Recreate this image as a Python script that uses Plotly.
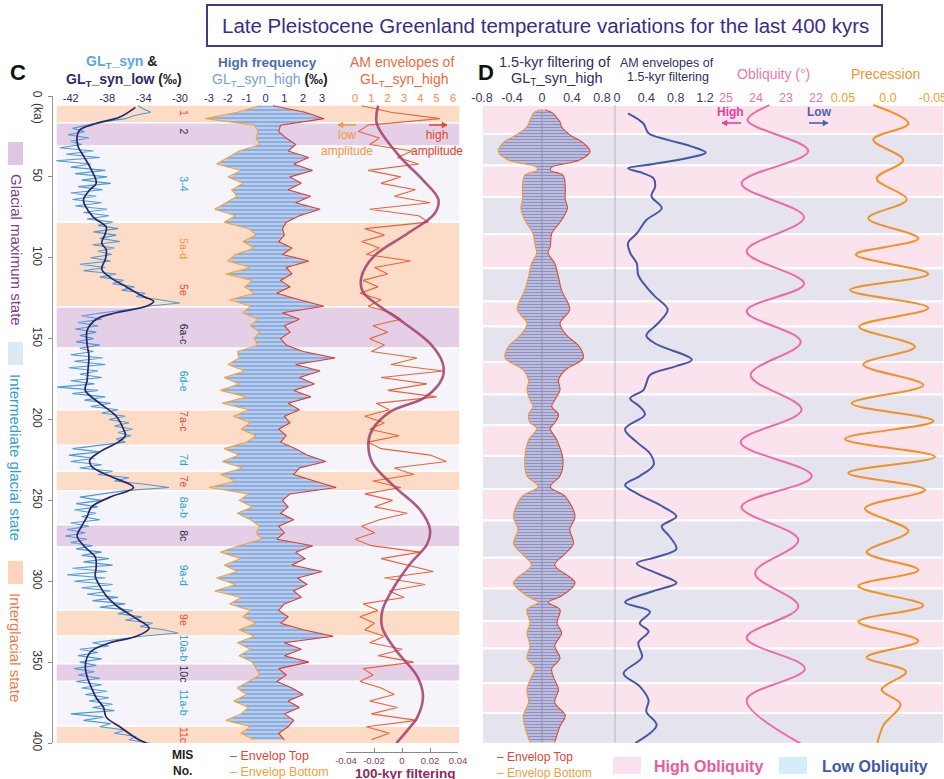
import plotly.graph_objects as go

W, H = 944, 779
FONT = "Liberation Sans, Arial, sans-serif"


def fx(p):
    return p / W


def fy(p):
    return 1 - p / H


# ---------------- DATA ----------------
# Panel C, track 1: GL_T_syn (light blue) every 2 kyr
ages_syn = list(range(6, 401, 2))
gl_syn = [
    -34.6, -34.0, -33.2, -35.0, -36.0, -38.5, -40.2, -41.8, -40.5, -42.3,
    -40.0, -42.0, -40.8, -43.2, -39.5, -42.5, -38.8, -43.6, -39.8, -42.0,
    -38.2, -41.5, -38.0, -40.8, -37.6, -41.2, -38.5, -42.0, -39.2, -41.8,
    -38.6, -41.5, -38.0, -40.6, -37.8, -40.2, -37.4, -39.0, -36.8, -39.5,
    -37.0, -38.8, -36.6, -39.6, -37.2, -39.0, -37.5, -39.8, -37.6, -41.0,
    -38.2, -40.6, -37.0, -38.8, -36.2, -37.4, -35.0, -36.4, -33.8, -34.8,
    -32.2, -30.0, -33.6, -35.6, -38.5, -40.8, -38.6, -41.2, -39.0, -41.5,
    -39.2, -41.0, -39.5, -41.4, -38.8, -41.0, -39.5, -42.0, -38.5, -41.6,
    -38.2, -42.2, -39.0, -41.0, -38.6, -42.0, -39.4, -43.5, -39.0, -41.8,
    -38.2, -40.5, -37.6, -39.8, -36.8, -38.6, -36.0, -37.8, -35.6, -37.2,
    -35.2, -36.8, -35.4, -37.0, -36.0, -38.6, -41.8, -38.8, -42.2, -39.4,
    -42.0, -38.6, -41.0, -37.4, -39.0, -35.6, -37.2, -33.8, -31.2, -36.0,
    -38.4, -41.0, -38.6, -41.4, -39.0, -41.6, -39.2, -40.8, -38.8, -42.0,
    -40.0, -42.4, -40.4, -42.6, -40.2, -42.0, -39.6, -41.4, -38.6, -40.8,
    -37.8, -40.6, -37.4, -41.8, -38.0, -42.4, -38.2, -41.6, -37.4, -40.8,
    -37.6, -40.2, -36.8, -39.6, -36.0, -38.8, -35.2, -36.8, -34.2, -36.0,
    -33.0, -34.4, -31.8, -30.2, -34.2, -37.2, -39.6, -37.8, -41.0, -39.0,
    -41.2, -38.6, -41.0, -39.2, -41.6, -39.4, -41.2, -38.8, -41.4, -38.6,
    -40.8, -38.0, -40.4, -37.8, -40.0, -37.4, -39.6, -37.2, -42.0, -38.4,
    -40.6, -37.6, -38.8, -36.0, -37.2, -34.8, -35.6, -33.4]

# GL_T_syn_low (dark smooth curve)
ages_low = [7, 13, 17, 21, 25, 31, 37, 46, 54, 58, 64, 68, 75, 81, 85, 91, 95,
            101, 107, 112, 118, 124, 127, 130, 134, 138, 145, 153, 161, 169,
            176, 182, 190, 198, 206, 210, 214, 220, 225, 229, 235, 242, 248,
            254, 260, 266, 272, 279, 285, 291, 297, 303, 309, 315, 322, 329,
            334, 338, 343, 347, 353, 359, 366, 372, 378, 384, 390, 397, 400]
gl_low = [-34.9, -36.6, -39.2, -41.0, -41.3, -41.2, -40.6, -39.7, -39.2, -39.9,
          -40.6, -40.4, -39.5, -38.1, -38.2, -38.6, -38.1, -38.2, -38.6, -37.7,
          -35.9, -34.0, -32.9, -33.7, -37.0, -39.2, -40.2, -40.2, -40.0, -40.1,
          -40.2, -40.4, -38.8, -37.0, -36.2, -36.0, -36.8, -38.8, -39.9, -39.7,
          -37.7, -35.1, -37.7, -39.7, -40.2, -40.8, -41.3, -40.4, -39.3, -39.2,
          -39.3, -38.8, -38.1, -37.0, -35.1, -33.4, -34.8, -37.7, -39.7, -40.2,
          -40.4, -40.2, -39.7, -39.2, -38.4, -38.1, -36.6, -34.8, -33.7]

# Panel C, track 2: envelopes of GL_T_syn_high, every 4 kyr
ages_env = list(range(6, 399, 4))
env_top = [
    0.4, 2.1, 3.1, 0.8, 0.7, 1.1, 1.6, 1.2, 2.3, 1.5,
    2.5, 1.3, 1.9, 1.2, 2.4, 1.6, 2.9, 1.8, 1.1, 0.9,
    1.0, 0.7, 1.4, 0.9, 2.3, 1.1, 1.4, 0.8, 1.3, 0.6,
    1.8, 3.1, 0.9, 1.8, 1.0, 1.3, 0.8, 1.1, 2.0, 3.7,
    1.6, 2.9, 1.8, 2.6, 1.5, 2.4, 1.2, 1.8, 1.0, 1.3,
    0.7, 1.1, 0.8, 1.6, 2.2, 3.2, 1.8, 1.5, 2.6, 3.75,
    1.3, 0.9, 1.2, 0.8, 1.5, 0.7, 1.0, 0.6, 2.5, 1.6,
    2.1, 1.4, 3.0, 1.7, 2.2, 1.5, 1.9, 1.0, 0.7, 1.2,
    0.8, 2.0, 3.6, 1.0, 1.9, 1.0, 2.3, 0.7, 1.1, 0.6,
    1.4, 2.0, 1.2, 1.8, 1.0, 1.5, 1.2, 0.7, 1.0]
env_bot = [
    -0.3, -1.5, -3.2, -0.6, -0.4, -0.5, -0.3, -1.4, -2.0, -2.6,
    -1.3, -2.0, -1.2, -1.8, -1.5, -2.1, -2.7, -1.6, -2.2, -0.9,
    -0.5, -1.2, -0.6, -1.6, -2.0, -0.8, -2.1, -0.7, -1.1, -0.6,
    -1.9, -0.8, -1.2, -0.4, -0.8, -0.3, -0.6, -0.4, -1.5, -1.4,
    -2.0, -1.1, -2.2, -1.4, -2.4, -1.0, -2.3, -0.9, -1.7, -0.8,
    -1.3, -0.5, -1.0, -2.2, -1.4, -2.3, -1.2, -2.4, -1.6, -3.0,
    -0.9, -1.4, -0.7, -1.5, -0.8, -0.3, -0.5, -0.2, -1.4, -2.4,
    -1.3, -2.2, -1.5, -2.6, -1.6, -2.7, -1.3, -1.9, -0.8, -1.2,
    -0.5, -1.4, -0.6, -1.5, -0.8, -1.4, -0.7, -0.5, -0.3, -0.9,
    -1.5, -1.0, -1.7, -0.9, -1.3, -2.1, -0.8, -1.3, -0.6]

# Panel C, track 3: AM envelopes of GL_T_syn_high
am_env = [
    0.4, 2.2, 5.2, 0.8, 0.2, 1.5, 0.9, 3.5, 2.6, 3.9,
    0.8, 2.8, 1.6, 3.7, 2.4, 4.6, 0.9, 3.9, 4.5, 0.6,
    1.8, 0.4, 1.5, 0.7, 3.4, 1.2, 2.0, 0.5, 1.4, 0.3,
    1.6, 0.8, 2.2, 2.8, 1.1, 2.0, 0.9, 1.8, 1.0, 3.8,
    2.2, 5.4, 1.6, 4.4, 2.0, 5.0, 1.3, 2.1, 0.6, 1.8,
    0.9, 2.7, 0.8, 1.6, 4.6, 5.6, 2.4, 3.6, 1.1, 2.8,
    0.6, 2.3, 1.2, 3.2, 1.5, 0.4, 1.2, 0.0, 1.0, 4.0,
    1.6, 3.3, 4.8, 1.8, 4.3, 2.1, 3.0, 0.5, 1.4, 0.3,
    1.2, 0.6, 1.8, 0.9, 2.9, 1.4, 3.6, 0.5, 1.1, 0.3,
    1.6, 2.4, 0.9, 2.6, 1.0, 3.8, 0.7, 2.1, 1.0]

# 100-kyr filtering
ages_100 = [6, 17, 37, 52, 64, 73, 85, 99, 112, 121, 130, 140, 153, 165, 174,
            186, 195, 206, 214, 227, 241, 256, 268, 277, 289, 304, 318, 329,
            343, 359, 371, 384, 392, 400]
filt_100 = [-0.017, -0.018, -0.002, 0.015, 0.026, 0.023, 0.004, -0.020, -0.029,
            -0.028, -0.016, 0.001, 0.020, 0.029, 0.029, 0.017, -0.008, -0.021,
            -0.024, -0.021, -0.006, 0.013, 0.020, 0.018, 0.006, -0.006, -0.014,
            -0.014, -0.004, 0.011, 0.015, 0.011, 0.004, -0.004]

# Panel D, track 1: 1.5-kyr filtering envelopes
ages_f15 = [8.5, 10.5, 13, 16, 19, 24, 29, 34.4, 39.6, 44,
            46, 49, 56, 64, 69.4, 76.7, 85, 93, 97, 103.5,
            112, 120, 132, 140.5, 148, 155, 162, 169.4, 175.6, 181.8,
            188, 192, 197, 202, 205.5, 212.8, 225, 235, 241.5, 247.7,
            260, 268, 276.6, 283, 290, 301, 309.6, 313, 317.6, 325.8,
            332, 340, 347.6, 354, 359, 367, 375, 383, 389.6, 399.5]
f15_top = [0.04, 0.14, 0.19, 0.24, 0.26, 0.37, 0.55, 0.64, 0.50, 0.13,
           0.11, 0.28, 0.31, 0.31, 0.34, 0.26, 0.13, 0.11, 0.08, 0.17,
           0.22, 0.26, 0.37, 0.24, 0.33, 0.50, 0.55, 0.31, 0.22, 0.24,
           0.17, 0.13, 0.22, 0.17, 0.11, 0.20, 0.28, 0.24, 0.11, 0.31,
           0.44, 0.37, 0.42, 0.31, 0.17, 0.44, 0.24, 0.08, 0.24, 0.20,
           0.26, 0.17, 0.24, 0.13, 0.15, 0.22, 0.17, 0.31, 0.24, 0.17]
f15_bot = [-0.03, -0.11, -0.14, -0.17, -0.20, -0.34, -0.52, -0.58, -0.45, -0.07,
           -0.07, -0.23, -0.26, -0.26, -0.28, -0.23, -0.12, -0.09, -0.07, -0.14,
           -0.18, -0.23, -0.33, -0.20, -0.29, -0.45, -0.49, -0.25, -0.18, -0.20,
           -0.16, -0.12, -0.18, -0.16, -0.07, -0.18, -0.23, -0.20, -0.05, -0.27,
           -0.38, -0.32, -0.38, -0.27, -0.14, -0.38, -0.18, -0.05, -0.20, -0.16,
           -0.20, -0.16, -0.20, -0.09, -0.14, -0.20, -0.18, -0.25, -0.23, -0.16]

# Panel D, track 2: AM envelope of 1.5-kyr filtering
ages_am15 = [10.7, 17, 23, 27, 31, 35, 38.5, 42, 44.7, 47.8,
             51, 56, 62, 69.4, 76.7, 85, 91, 97, 103.5, 110.7,
             118, 124, 132, 140.5, 148, 153, 163, 167, 172.5, 177.6,
             181.8, 187, 192, 197, 206, 214, 221, 228, 235, 240.5,
             245.7, 254, 260, 266, 272.5, 280, 285, 289, 295, 301,
             306, 313, 318.8, 326, 331, 338, 347, 357, 365, 373.5,
             380.6, 389, 400]
am15 = [0.15, 0.36, 0.43, 0.68, 1.0, 1.21, 0.95, 0.5, 0.15, 0.36,
        0.5, 0.52, 0.47, 0.61, 0.4, 0.27, 0.15, 0.18, 0.27, 0.29,
        0.4, 0.52, 0.69, 0.56, 0.4, 0.52, 1.02, 0.81, 0.45, 0.4,
        0.36, 0.18, 0.31, 0.38, 0.11, 0.27, 0.45, 0.5, 0.31, 0.11,
        0.27, 0.63, 0.81, 0.61, 0.72, 0.81, 0.54, 0.27, 0.54, 0.81,
        0.5, 0.11, 0.45, 0.31, 0.43, 0.29, 0.34, 0.09, 0.31, 0.43,
        0.4, 0.54, 0.25]

# Obliquity (degrees)
ages_obl = [5.6, 15, 34, 54, 75, 96, 116, 133, 152, 172.5, 194, 214, 235, 254,
            274.5, 295, 315.6, 335, 354, 373.5, 401]
obliquity = [23.55, 24.28, 22.26, 24.48, 22.40, 24.31, 22.40, 24.31, 22.51,
             24.18, 22.48, 24.51, 22.14, 24.48, 22.59, 24.03, 22.59, 24.31,
             22.37, 24.31, 22.45]

# Precession
ages_prec = [5.6, 17, 27, 39.6, 51, 64, 75.6, 88, 98, 110, 120, 131, 142.6, 155,
             166, 178.7, 190, 201, 212, 223, 233, 243.5, 255, 269, 282, 293,
             303, 315, 325, 336.8, 347, 356, 367, 376, 389, 400.5]
precession = [0.0163, -0.0226, 0.0163, -0.017, 0.0126, -0.0207, 0.0219, -0.0337,
              0.0356, -0.0448, 0.0422, -0.0448, 0.0319, -0.030, 0.0274, -0.0393,
              0.0404, -0.0504, 0.0478, -0.0522, 0.0441, -0.0411, 0.0256, -0.0226,
              0.0237, -0.0337, 0.033, -0.0393, 0.033, -0.0337, 0.0237, -0.020,
              0.007, -0.014, 0.005, 0.012]

# Climate-state bands (panel C)
band_c_start = [5.6, 16.5, 31, 78, 130.5, 156, 194, 216, 232, 244, 265, 279,
                318, 334, 351, 362, 389.5]
band_c_end = [16.5, 31, 78, 130.5, 156, 194, 216, 232, 244, 265, 279, 318,
              334, 351, 362, 389.5, 400.5]
band_c_state = ['I', 'G', 'M', 'I', 'G', 'M', 'I', 'M', 'I', 'M', 'G', 'M',
                'I', 'M', 'G', 'M', 'I']

# Obliquity bands (panel D), alternating high / low
band_d_edges = [5.6, 23.5, 43, 62.5, 85.5, 106.5, 127, 142.5, 164.5, 184.5,
                203.5, 222.5, 243, 262.5, 285.5, 304.5, 324.5, 341.5, 363,
                381.5, 400.5]

# MIS labels
mis_labels = ['1', '2', '3-4', '5a-d', '5e', '6a-c', '6d-e', '7a-c', '7d', '7e',
              '8a-b', '8c', '9a-d', '9e', '10a-b', '10c', '11a-b', '11c']
mis_ages = [10.5, 22, 54, 94, 120, 147, 176, 201, 225, 238.5, 254, 271.5, 296,
            324, 341, 357, 375, 395]
mis_kind = ['I', 'G', 'M', 'O', 'I', 'G', 'M', 'I', 'M', 'I', 'M', 'G', 'M',
            'I', 'M', 'G', 'M', 'I']

# ---------------- FIGURE ----------------
fig = go.Figure()

state_fill = {'I': '#fcdcc6', 'G': '#e4cfe7', 'M': '#f5f4fa'}
shapes = []
for s, e, st in zip(band_c_start, band_c_end, band_c_state):
    shapes.append(dict(type='rect', xref='paper', yref='y', x0=fx(56), x1=fx(460),
                       y0=s, y1=e, fillcolor=state_fill[st],
                       line=dict(color='white', width=1.5), layer='below'))
for i in range(len(band_d_edges) - 1):
    col = '#fbe3ee' if i % 2 == 0 else '#e4e3ee'
    shapes.append(dict(type='rect', xref='paper', yref='y', x0=fx(482), x1=fx(944),
                       y0=band_d_edges[i], y1=band_d_edges[i + 1], fillcolor=col,
                       line=dict(color='white', width=2), layer='below'))
# divider in panel D
shapes.append(dict(type='line', xref='paper', yref='paper', x0=fx(615), x1=fx(615),
                   y0=fy(743), y1=fy(105), line=dict(color='#b4b4bf', width=1)))
# title box
shapes.append(dict(type='rect', xref='paper', yref='paper', x0=fx(207), x1=fx(882),
                   y0=fy(46), y1=fy(5), line=dict(color='#46398a', width=2),
                   fillcolor='white', layer='below'))
# side legend squares
for y0, y1, c in [(142, 165, '#dcc6e3'), (342, 365, '#dde9f5'), (561, 584, '#fcd3bd')]:
    shapes.append(dict(type='rect', xref='paper', yref='paper', x0=fx(8), x1=fx(23),
                       y0=fy(y1), y1=fy(y0), fillcolor=c, line=dict(width=0)))
# bottom legend squares (panel D)
for x0, x1, c in [(613, 641, '#fbe1ef'), (779, 807, '#d5ecf9')]:
    shapes.append(dict(type='rect', xref='paper', yref='paper', x0=fx(x0), x1=fx(x1),
                       y0=fy(774), y1=fy(757), fillcolor=c, line=dict(width=0)))


def arrow(x_head, x_tail, y, color):
    shapes.append(dict(type='line', xref='paper', yref='paper', x0=fx(x_tail),
                       x1=fx(x_head), y0=fy(y), y1=fy(y),
                       line=dict(color=color, width=1.6)))
    d = 5 if x_head > x_tail else -5
    path = 'M %.5f %.5f L %.5f %.5f L %.5f %.5f Z' % (
        fx(x_head), fy(y), fx(x_head - d), fy(y - 3), fx(x_head - d), fy(y + 3))
    shapes.append(dict(type='path', xref='paper', yref='paper', path=path,
                       fillcolor=color, line=dict(color=color, width=0.5)))


arrow(722, 741, 123, '#e5409a')
arrow(828, 809, 123, '#4a62ad')
arrow(338, 356, 125, '#f39a3e')
arrow(447, 429, 125, '#e2462f')

# ---- traces ----
fig.add_trace(go.Scatter(x=gl_syn, y=ages_syn, xaxis='x', yaxis='y', mode='lines',
                         line=dict(color='#4d9bd8', width=1.1)))
fig.add_trace(go.Scatter(x=gl_low, y=ages_low, xaxis='x', yaxis='y', mode='lines',
                         line=dict(color='#2a2668', width=1.7, shape='spline')))

fig.add_trace(go.Scatter(x=env_bot, y=ages_env, xaxis='x2', yaxis='y', mode='lines',
                         line=dict(width=0, color='rgba(0,0,0,0)')))
fig.add_trace(go.Scatter(x=env_top, y=ages_env, xaxis='x2', yaxis='y', mode='lines',
                         line=dict(width=0, color='rgba(0,0,0,0)'), fill='tonextx',
                         fillcolor='#c9d9f0',
                         fillpattern=dict(shape='-', fgcolor='#5283cc', bgcolor='#c9d9f0',
                                          size=4, solidity=0.65)))
fig.add_trace(go.Scatter(x=env_bot, y=ages_env, xaxis='x2', yaxis='y', mode='lines',
                         line=dict(color='#f2a640', width=1.1)))
fig.add_trace(go.Scatter(x=env_top, y=ages_env, xaxis='x2', yaxis='y', mode='lines',
                         line=dict(color='#de3b30', width=1.1)))

fig.add_trace(go.Scatter(x=am_env, y=ages_env, xaxis='x3', yaxis='y', mode='lines',
                         line=dict(color='#eb6433', width=1.1)))
fig.add_trace(go.Scatter(x=filt_100, y=ages_100, xaxis='x4', yaxis='y', mode='lines',
                         line=dict(color='#a53e6b', width=2.6, shape='spline'),
                         opacity=0.85))

fig.add_trace(go.Scatter(x=f15_bot, y=ages_f15, xaxis='x5', yaxis='y', mode='lines',
                         line=dict(width=0, color='rgba(0,0,0,0)', shape='spline')))
fig.add_trace(go.Scatter(x=f15_top, y=ages_f15, xaxis='x5', yaxis='y', mode='lines',
                         line=dict(width=0, color='rgba(0,0,0,0)', shape='spline'),
                         fill='tonextx', fillcolor='#d2d2ea',
                         fillpattern=dict(shape='-', fgcolor='#4a4d94', bgcolor='#d2d2ea',
                                          size=3, solidity=0.55)))
fig.add_trace(go.Scatter(x=f15_bot, y=ages_f15, xaxis='x5', yaxis='y', mode='lines',
                         line=dict(color='#f29a3a', width=1.1, shape='spline')))
fig.add_trace(go.Scatter(x=f15_top, y=ages_f15, xaxis='x5', yaxis='y', mode='lines',
                         line=dict(color='#e24a34', width=1.1, shape='spline')))
shapes.append(dict(type='line', xref='x5', yref='y', x0=0, x1=0, y0=ages_f15[0],
                   y1=ages_f15[-1], line=dict(color='#8d8da8', width=1), layer='above'))

fig.add_trace(go.Scatter(x=am15, y=ages_am15, xaxis='x6', yaxis='y', mode='lines',
                         line=dict(color='#4757a5', width=2, shape='spline')))
fig.add_trace(go.Scatter(x=obliquity, y=ages_obl, xaxis='x7', yaxis='y', mode='lines',
                         line=dict(color='#ee6aa7', width=2, shape='spline')))
fig.add_trace(go.Scatter(x=precession, y=ages_prec, xaxis='x8', yaxis='y', mode='lines',
                         line=dict(color='#f29128', width=2, shape='spline')))


# ---- axes ----
def xax(d0, d1, p0, v0, p1, v1, tickvals, ticktext, color, size,
        pos=fy(104), side='top'):
    s = (v1 - v0) / (p1 - p0)
    return dict(domain=[fx(d0), fx(d1)], range=[v0 + (d0 - p0) * s, v0 + (d1 - p0) * s],
                anchor='free', position=pos, side=side, tickvals=tickvals,
                ticktext=ticktext, tickfont=dict(size=size, color=color, family=FONT),
                ticks='', showline=False, showgrid=False, zeroline=False,
                ticklabeloverflow='allow', fixedrange=True, automargin=False)


ax_c1 = xax(56, 200, 70.7, -42, 180, -30, [-42, -38, -34, -30],
            ['-42', '-38', '-34', '-30'], '#2d2a6a', 11)
ax_c2 = xax(200, 340, 209, -3, 322, 3, [-3, -2, -1, 0, 1, 2, 3],
            ['-3', '-2', '-1', '0', '1', '2', '3'], '#2d2a6a', 11)
ax_c3 = xax(340, 460, 355, 0, 453, 6, [0, 1, 2, 3, 4, 5, 6],
            ['0', '1', '2', '3', '4', '5', '6'], '#f08a4e', 11)
ax_c4 = xax(346, 458, 346, -0.04, 458, 0.04, [-0.04, -0.02, 0, 0.02, 0.04],
            ['-0.04', '-0.02', '0', '0.02', '0.04'], '#8a3a66', 9.5,
            pos=fy(752), side='bottom')
ax_c4.update(ticks='inside', ticklen=4, tickcolor='#888', showline=True,
             linecolor='#888', linewidth=1)
ax_d1 = xax(482, 615, 512, -0.4, 602, 0.8, [-0.8, -0.4, 0, 0.4, 0.8],
            ['-0.8', '-0.4', '0', '0.4', '0.8'], '#3a3a6a', 12.5)
ax_d2 = xax(615, 720, 617, 0, 705, 1.2, [0, 0.4, 0.8, 1.2],
            ['0', '0.4', '0.8', '1.2'], '#3a3a6a', 12.5)
ax_d3 = xax(720, 838, 726, 25, 816, 22, [25, 24, 23, 22],
            ['25', '24', '23', '22'], '#e870a8', 12.5)
ax_d4 = xax(838, 944, 843, 0.05, 933, -0.05, [0.05, 0.0, -0.05],
            ['0.05', '0.0', '-0.05'], '#f0a030', 12.5)

fig.update_layout(
    width=W, height=H, autosize=False,
    margin=dict(l=0, r=0, t=0, b=0, pad=0, autoexpand=False),
    paper_bgcolor='white', plot_bgcolor='rgba(0,0,0,0)', showlegend=False,
    font=dict(family=FONT),
    xaxis=ax_c1, xaxis2=ax_c2, xaxis3=ax_c3, xaxis4=ax_c4,
    xaxis5=ax_d1, xaxis6=ax_d2, xaxis7=ax_d3, xaxis8=ax_d4,
    yaxis=dict(domain=[fy(743), fy(96)], range=[400, 0], anchor='free',
               position=fx(52), tickvals=list(range(0, 401, 50)),
               ticktext=[str(v) for v in range(0, 401, 50)], tickangle=90,
               ticks='outside', ticklen=4, tickcolor='#888', showline=True,
               linecolor='#999', linewidth=1.2, showgrid=False, zeroline=False,
               tickfont=dict(size=12, color='#333', family=FONT), fixedrange=True,
               automargin=False),
    shapes=shapes,
)

# ---- annotations ----
anns = []


def ann(text, x, y, size, color, bold=False, angle=0, xanchor='center',
        yanchor='middle', yref='paper', align='center'):
    t = '<b>%s</b>' % text if bold else text
    anns.append(dict(text=t, x=fx(x), y=(fy(y) if yref == 'paper' else y),
                     xref='paper', yref=yref, showarrow=False, textangle=angle,
                     xanchor=xanchor, yanchor=yanchor, align=align,
                     font=dict(size=size, color=color, family=FONT)))


ann('Late Pleistocene Greenland temperature variations for the last 400 kyrs',
    545, 25, 20.5, '#3b2d86')
ann('C', 18, 72, 22, '#111', bold=True)
ann('D', 486, 72, 22, '#111', bold=True)

ann('<span style="color:#5aa8de">GL<sub>T</sub>_syn</span> &amp;', 122, 62, 14, '#222', bold=True)
ann('<span style="color:#35296b">GL<sub>T</sub>_syn_low</span> (‰)', 124, 80, 14, '#222', bold=True)
ann('<b>High frequency</b>', 267, 62, 13.5, '#4a6db0')
ann('<span style="color:#7aa0d4">GL<sub>T</sub>_syn_high</span> <b>(‰)</b>', 270, 80, 14, '#222')
ann('AM envelopes of', 402, 62, 14, '#ec6a3c')
ann('GL<sub>T</sub>_syn_high', 404, 80, 14, '#ec6a3c')
ann('1.5-kyr filtering of', 555, 62, 14.5, '#2f2f60')
ann('GL<sub>T</sub>_syn_high', 557, 79, 14.5, '#2f2f60')
ann('AM envelopes of', 667, 63, 12.5, '#2f2f60')
ann('1.5-kyr filtering', 668, 77, 12.5, '#2f2f60')
ann('Obliquity (°)', 773, 74, 14, '#ec78b0')
ann('Precession', 885, 74, 14, '#f2952c')

ann('(ka)', 38, 113, 12, '#333', angle=90)

ann('Glacial maximum state', 16, 250, 15, '#7b3b8f', angle=90)
ann('Intermediate glacial state', 16, 457, 15, '#2c9ed8', angle=90)
ann('Interglacial state', 16, 647, 15, '#f2784a', angle=90)

kind_col = {'I': '#e8473d', 'G': '#2d2d3d', 'M': '#22a3d0', 'O': '#f29a38'}
for lab, a, k in zip(mis_labels, mis_ages, mis_kind):
    ann(lab, 184, a, 10.5, kind_col[k], angle=90, yref='y')

ann('MIS<br>No.', 182, 763, 12, '#222', bold=True)

legend_env = ('<span style="color:#e0443a">– Envelop Top</span><br>'
              '<span style="color:#f0a040">– Envelop Bottom</span>')
ann(legend_env, 228, 764, 12.5, '#e0443a', xanchor='left', align='left')
ann('100-kyr filtering', 405, 773, 13.5, '#8a2b5f', bold=True)

ann(legend_env, 495, 765, 12, '#e0443a', xanchor='left', align='left')
ann('High Obliquity', 652, 766, 16, '#ea5b9c', bold=True, xanchor='left')
ann('Low Obliquity', 820, 766, 16, '#3d5aa6', bold=True, xanchor='left')

ann('High', 730, 112, 12, '#e5409a', bold=True)
ann('Low', 819, 112, 12, '#4a62ad', bold=True)

ann('low<br>amplitude', 347, 143, 12, '#f39a3e')
ann('high<br>amplitude', 437, 143, 12, '#e2462f')

fig.update_layout(annotations=anns)

fig.write_html("out.html",
               config={'displayModeBar': False},
               post_script="document.body.style.margin='0';"
                           "document.body.style.overflow='hidden';")
